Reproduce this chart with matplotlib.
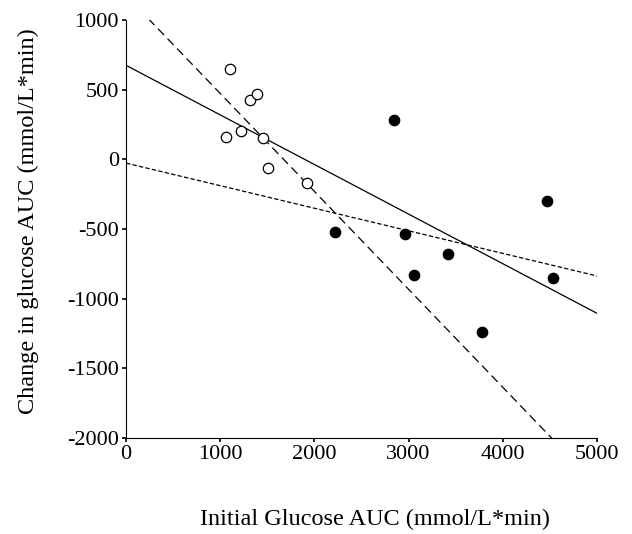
import numpy as np
import matplotlib.pyplot as plt

plt.rcParams['font.family'] = ['Liberation Serif', 'DejaVu Serif']
plt.rcParams['axes.unicode_minus'] = False

# open circles (low initial AUC group)
open_x = [1101, 1058, 1224, 1320, 1391, 1455, 1511, 1925]
open_y = [646, 162, 205, 424, 471, 151, -62, -172]

# filled circles (high initial AUC group)
fill_x = [2845, 2219, 2958, 3418, 3054, 4473, 4530, 3779]
fill_y = [281, -522, -536, -678, -830, -301, -852, -1240]

# regression lines: (intercept, slope)
line_all = (675, -0.356)
line_open = (1176, -0.703)
line_fill = (-27, -0.162)

fig = plt.figure(figsize=(6.32, 5.34), dpi=100)
ax = fig.add_axes([0.1994, 0.1798, 0.7452, 0.7827])

xs = np.array([0, 5000])
ax.plot(xs, line_all[0] + line_all[1] * xs, color='black', lw=0.9)
ax.plot(xs, line_open[0] + line_open[1] * xs, color='black', lw=0.9,
        dashes=(7, 4))
ax.plot(xs, line_fill[0] + line_fill[1] * xs, color='black', lw=0.9,
        dashes=(3.5, 1.8))

ax.plot(open_x, open_y, 'o', ms=7.5, mfc='white', mec='black', mew=0.9)
ax.plot(fill_x, fill_y, 'o', ms=7.5, mfc='black', mec='black', mew=0.9)

ax.set_xlim(0, 5000)
ax.set_ylim(-2000, 1000)
ax.set_xticks([0, 1000, 2000, 3000, 4000, 5000])
ax.set_yticks([-2000, -1500, -1000, -500, 0, 500, 1000])
ax.spines['top'].set_visible(False)
ax.spines['right'].set_visible(False)
ax.tick_params(direction='out', length=3, width=1.2, labelsize=16, pad=2)

ax.set_xlabel("Initial Glucose AUC (mmol/L*min)", fontsize=17.5)
ax.set_ylabel("Change in glucose AUC (mmol/L*min)", fontsize=17.5)
ax.xaxis.set_label_coords(0.529, -0.17)
ax.yaxis.set_label_coords(-0.185, 0.52)

fig.savefig("out.png", dpi=100)
